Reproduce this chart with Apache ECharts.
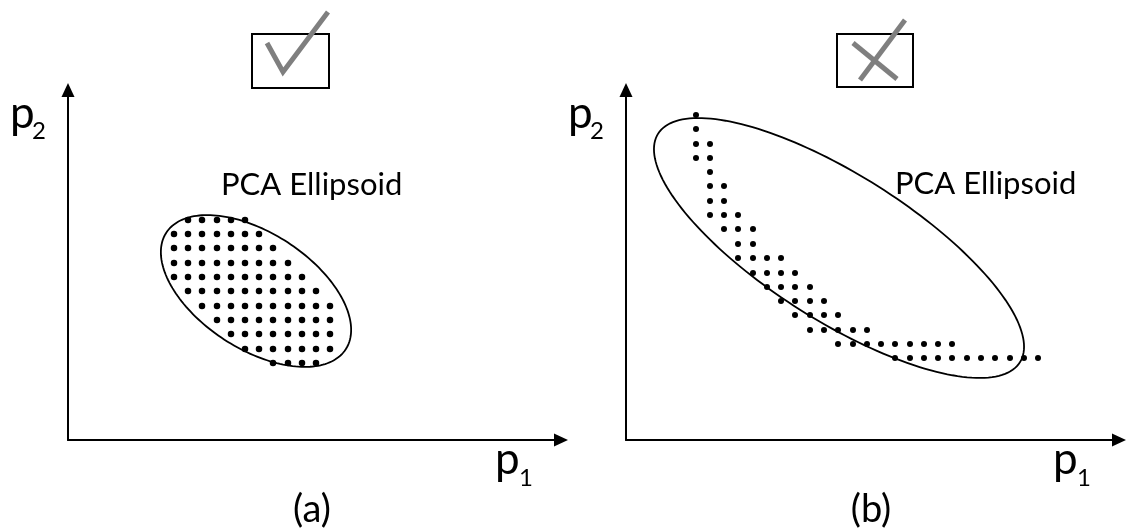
<!DOCTYPE html>
<html>
<head>
<meta charset="utf-8">
<script src="https://cdn.jsdelivr.net/npm/echarts@6/dist/echarts.min.js"></script>
<style>
  html, body { margin: 0; padding: 0; background: #fff; }
  #chart { width: 1126px; height: 531px; }
</style>
</head>
<body>
<div id="chart"></div>
<script>
// Panel (a): a compact cloud of samples, well described by its PCA ellipsoid.
// Sample lattice positions (p1 values of the columns, p2 values of the rows).
const colsA = [106, 120, 134, 149, 163, 177, 191, 205, 220, 234, 248, 262];
const rowsA = [220, 206, 192, 177, 163, 149, 134, 120, 106, 91, 77];
// Which columns are occupied in each row (top row first).
const rowColsA = [
  [1, 2, 3, 4, 5],
  [0, 1, 2, 3, 4, 5, 6],
  [0, 1, 2, 3, 4, 5, 6, 7],
  [0, 1, 2, 3, 4, 5, 6, 7, 8],
  [0, 1, 2, 3, 4, 5, 6, 7, 8, 9],
  [1, 2, 3, 4, 5, 6, 7, 8, 9, 10],
  [2, 3, 4, 5, 6, 7, 8, 9, 10, 11],
  [3, 4, 5, 6, 7, 8, 9, 10, 11],
  [4, 5, 6, 7, 8, 9, 10, 11],
  [5, 6, 7, 8, 9, 10, 11],
  [7, 8, 9, 10]
];
// Ellipsoid of panel (a): centre, semi-axes, tilt below the p1 axis (degrees).
const ellipseCenterA = [188, 149];
const ellipseAxesA = [107, 58];
const ellipseTiltA = 33;

// Panel (b): a curved (L-shaped) set of samples, poorly described by its PCA ellipsoid.
const colsB = [70, 84, 98, 112, 127, 141, 155, 169, 184, 198, 212, 227, 241,
               255, 269, 284, 298, 312, 326, 341, 355, 369, 384, 398, 412];
const rowsB = [325, 311, 296, 282, 268, 254, 239, 225, 211, 196, 182, 167,
               153, 139, 125, 110, 96, 82];
const rowColsB = [
  [0],
  [0],
  [0, 1],
  [0, 1],
  [1],
  [1, 2],
  [1, 2],
  [1, 2, 3],
  [2, 3, 4],
  [3, 4],
  [3, 4, 5, 6],
  [4, 5, 6, 7],
  [5, 6, 7, 8],
  [6, 7, 8, 9],
  [7, 8, 9, 10],
  [8, 9, 10, 11, 12],
  [10, 11, 12, 13, 14, 15, 16, 17, 18],
  [14, 15, 16, 17, 18, 19, 20, 21, 22, 23, 24]
];
const ellipseCenterB = [213, 192];
const ellipseAxesB = [214, 73];
const ellipseTiltB = 32.3;

const axisMax = [493, 350];
const FONT = 'Lato';

function latticePoints(cols, rows, rowCols) {
  const pts = [];
  rowCols.forEach((list, r) => list.forEach(c => pts.push([cols[c], rows[r]])));
  return pts;
}

// Draws a tilted ellipse given in data units, traced through the grid's own scale.
function ellipseRenderer(center, axes, tiltDeg) {
  return function (params, api) {
    const phi = -tiltDeg * Math.PI / 180;
    const cphi = Math.cos(phi), sphi = Math.sin(phi);
    const pts = [];
    const n = 180;
    for (let i = 0; i < n; i++) {
      const t = 2 * Math.PI * i / n;
      const u = axes[0] * Math.cos(t), v = axes[1] * Math.sin(t);
      pts.push(api.coord([center[0] + u * cphi - v * sphi, center[1] + u * sphi + v * cphi]));
    }
    return {
      type: 'polygon',
      shape: { points: pts },
      style: { fill: 'none', stroke: '#000', lineWidth: 1.8 },
      silent: true
    };
  };
}

function axisPair(gridIndex) {
  const line = { show: true, symbol: ['none', 'triangle'], symbolSize: [13, 14],
                 lineStyle: { color: '#000', width: 2 } };
  return {
    x: { type: 'value', gridIndex, min: 0, max: axisMax[0], axisLine: line,
         axisTick: { show: false }, axisLabel: { show: false }, splitLine: { show: false } },
    y: { type: 'value', gridIndex, min: 0, max: axisMax[1], axisLine: line,
         axisTick: { show: false }, axisLabel: { show: false }, splitLine: { show: false } }
  };
}
const axA = axisPair(0), axB = axisPair(1);

function label(text, x, y, size, align) {
  return { type: 'text', x, y, silent: true,
    style: { text, fontFamily: FONT, fontSize: size, fill: '#000',
             align: align || 'left', verticalAlign: 'middle' } };
}

// Axis names p1 / p2 with subscripts, panel captions and the verdict boxes.
function axisNames(dx) {
  return [
    label('p', 10 + dx, 114, 44), label('2', 32 + dx, 131, 24),
    label('p', 495 + dx, 460, 44), label('1', 519 + dx, 478, 24)
  ];
}

const graphics = [].concat(
  axisNames(0), axisNames(558),
  [
    label('PCA Ellipsoid', 221, 185, 31),
    label('PCA Ellipsoid', 895, 184, 31),
    label('(a)', 312, 510, 38, 'center'),
    label('(b)', 871, 510, 38, 'center'),
    { type: 'rect', shape: { x: 252, y: 34, width: 77, height: 54 },
      style: { fill: 'none', stroke: '#000', lineWidth: 2 } },
    { type: 'polyline', shape: { points: [[267, 43], [283, 72], [328, 12]] },
      style: { fill: 'none', stroke: '#7f7f7f', lineWidth: 5 } },
    { type: 'rect', shape: { x: 837, y: 34, width: 76, height: 53 },
      style: { fill: 'none', stroke: '#000', lineWidth: 2 } },
    { type: 'line', shape: { x1: 853, y1: 43, x2: 897, y2: 79 },
      style: { stroke: '#7f7f7f', lineWidth: 5 } },
    { type: 'line', shape: { x1: 860, y1: 80, x2: 905, y2: 20 },
      style: { stroke: '#7f7f7f', lineWidth: 5 } }
  ]
);

const chart = echarts.init(document.getElementById('chart'), null, { renderer: 'canvas' });
chart.setOption({
  animation: false,
  backgroundColor: '#fff',
  grid: [
    { left: 68, top: 90, width: 493, height: 350 },
    { left: 626, top: 90, width: 493, height: 350 }
  ],
  xAxis: [axA.x, axB.x],
  yAxis: [axA.y, axB.y],
  series: [
    { type: 'scatter', xAxisIndex: 0, yAxisIndex: 0, symbolSize: 6.5,
      itemStyle: { color: '#000', opacity: 1 }, data: latticePoints(colsA, rowsA, rowColsA) },
    { type: 'custom', xAxisIndex: 0, yAxisIndex: 0, data: [[0]],
      renderItem: ellipseRenderer(ellipseCenterA, ellipseAxesA, ellipseTiltA) },
    { type: 'scatter', xAxisIndex: 1, yAxisIndex: 1, symbolSize: 6,
      itemStyle: { color: '#000', opacity: 1 }, data: latticePoints(colsB, rowsB, rowColsB) },
    { type: 'custom', xAxisIndex: 1, yAxisIndex: 1, data: [[0]],
      renderItem: ellipseRenderer(ellipseCenterB, ellipseAxesB, ellipseTiltB) }
  ],
  graphic: graphics
});
</script>
</body>
</html>
